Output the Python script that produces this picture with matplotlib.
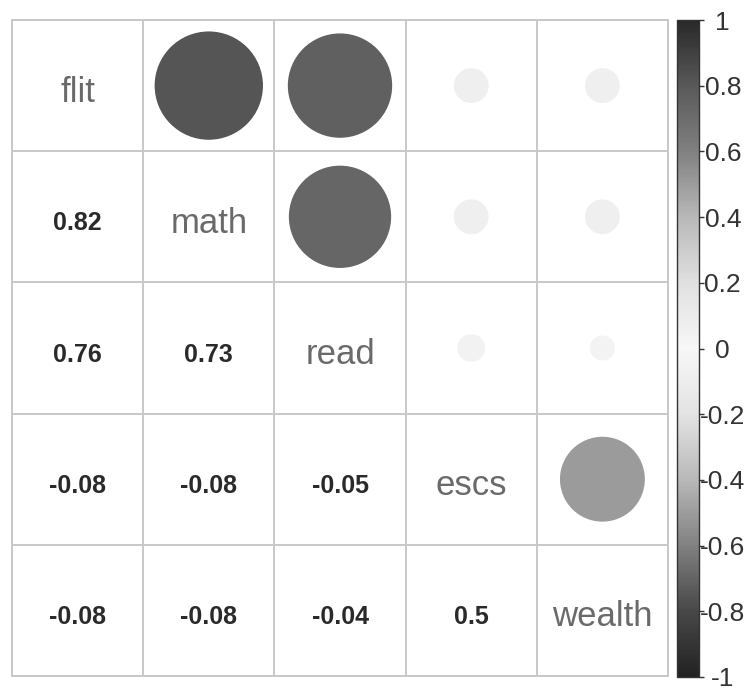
import numpy as np
import matplotlib
matplotlib.use("Agg")
import matplotlib.pyplot as plt
from matplotlib.patches import Circle
from matplotlib.colors import ListedColormap, Normalize
from matplotlib.cm import ScalarMappable

# Variables and their pairwise correlations
variables = ["flit", "math", "read", "escs", "wealth"]
corr_flit = [1.00, 0.82, 0.76, -0.08, -0.08]
corr_math = [0.82, 1.00, 0.73, -0.08, -0.08]
corr_read = [0.76, 0.73, 1.00, -0.05, -0.04]
corr_escs = [-0.08, -0.08, -0.05, 1.00, 0.50]
corr_wealth = [-0.08, -0.08, -0.04, 0.50, 1.00]
cbar_ticks = [1, 0.8, 0.6, 0.4, 0.2, 0, -0.2, -0.4, -0.6, -0.8, -1]

corr = np.array([corr_flit, corr_math, corr_read, corr_escs, corr_wealth])
n = len(variables)

# Diverging palette rendered in grayscale (luminance of RdBu)
base = plt.get_cmap("RdBu")(np.linspace(0, 1, 256))[:, :3]
lum = base @ np.array([0.299, 0.587, 0.114])
gray_cmap = ListedColormap(np.column_stack([lum, lum, lum]))
norm = Normalize(-1, 1)

plt.rcParams["font.family"] = ["Liberation Sans", "DejaVu Sans"]

W, H = 753, 691
fig = plt.figure(figsize=(W / 100, H / 100), dpi=100)
ax = fig.add_axes([12 / W, 15 / H, 656 / W, 656 / H])
ax.set_xlim(0, n)
ax.set_ylim(n, 0)
ax.set_xticks([])
ax.set_yticks([])
for s in ax.spines.values():
    s.set_visible(False)

grid_col = "#c8c8c8"
for k in range(n + 1):
    ax.plot([k, k], [0, n], color=grid_col, lw=1.4, zorder=1, clip_on=False)
    ax.plot([0, n], [k, k], color=grid_col, lw=1.4, zorder=1, clip_on=False)

dy = 0.05  # text sits slightly below the cell centre
for i in range(n):
    for j in range(n):
        cx, cy = j + 0.5, i + 0.5
        v = corr[i, j]
        if i == j:
            ax.text(cx, cy + dy, variables[i], ha="center", va="center",
                    fontsize=25, color="#6a6a6a")
        elif j > i:
            r = 0.45 * np.sqrt(abs(v))
            c = gray_cmap(norm(v))
            ax.add_patch(Circle((cx, cy), r, facecolor=c, edgecolor=c,
                                lw=1.0, zorder=2))
        else:
            ax.text(cx, cy + dy, f"{round(v, 2):g}", ha="center", va="center",
                    fontsize=18, fontweight="bold", color="#2a2a2a")

# Colorbar
cax = fig.add_axes([677 / W, 14 / H, 22 / W, 657 / H])
sm = ScalarMappable(norm=norm, cmap=gray_cmap)
cb = fig.colorbar(sm, cax=cax, ticks=cbar_ticks)
cb.ax.set_yticklabels([f"{t:g}" for t in cbar_ticks])
cb.ax.tick_params(labelsize=19, length=3.6, width=1, color="#333333",
                  pad=13.5, labelcolor="#333333")
for lab in cb.ax.get_yticklabels():
    lab.set_horizontalalignment("center")
cb.outline.set_edgecolor("#333333")
cb.outline.set_linewidth(1.0)

fig.savefig("out.png", dpi=100, facecolor="white")
